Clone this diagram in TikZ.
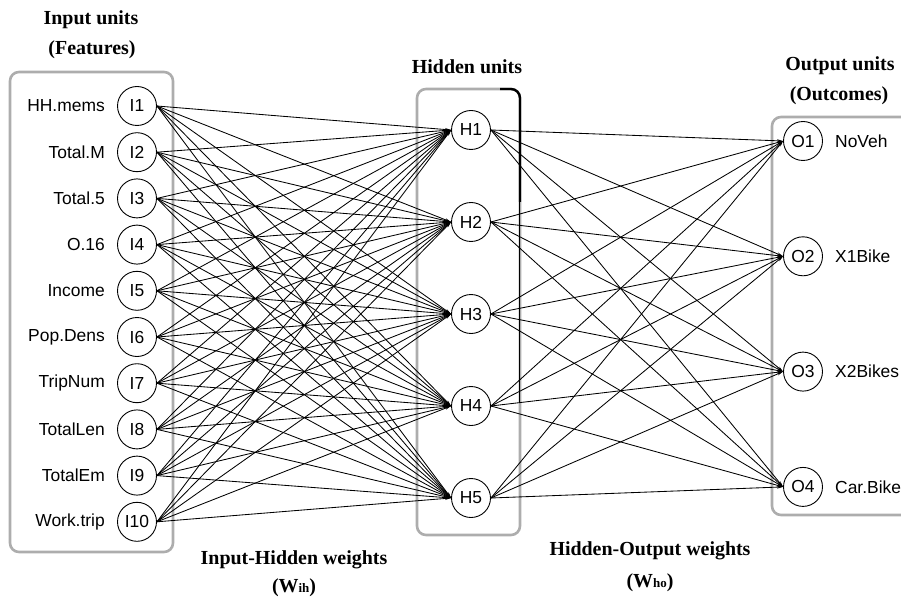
\documentclass[tikz,border=0pt]{standalone}
\usepackage{fontspec}
\setmainfont{Liberation Serif}
\newfontfamily\arialfont{Liberation Sans}
\usetikzlibrary{
  arrows.meta
}

\begin{document}
\begin{tikzpicture}[x=1bp, y=-1bp,
  every node/.style = {inner sep=0pt},
  unit/.style = {shape=circle, draw, line width=0.9pt, minimum size=39bp,
    font=\arialfont\fontsize{17.5}{20}\selectfont},
  feat/.style = {anchor=east, font=\arialfont\fontsize{17.5}{20}\selectfont},
  outc/.style = {anchor=west, font=\arialfont\fontsize{17.5}{20}\selectfont},
  group/.style = {draw=black!32, line width=2.6pt, rounded corners=9bp},
  title/.style = {font=\bfseries\fontsize{20}{24}\selectfont},
  wtitle/.style = {font=\bfseries\fontsize{20}{24}\selectfont},
  weight/.style = {-{Stealth[length=6bp,width=3bp]}, line width=0.85pt}]
    \useasboundingbox (0,0) rectangle (901,597);
    % boxes round the layers
    \draw[group] (10,72) rectangle (173,552);
    \draw[group] (417,89) rectangle (520,535);
    \draw[group] (772,117) rectangle (930,515);
    \draw[line width=2.4pt, rounded corners=9bp] (500,89) -- (520,89) -- (520,202);
    \draw[line width=1.1pt] (519.5,200) -- (519.5,402);

    % input layer
    \foreach \lab [count=\i] in {HH.mems,Total.M,Total.5,O.16,Income,
        Pop.Dens,TripNum,TotalLen,TotalEm,Work.trip} {
      \node[unit] (I\i) at (137,{106+46.2*(\i-1)}) {I\i};
      \node[feat] (F\i) at (105,{106+46.2*(\i-1)}) {\lab};
    }
    % hidden layer
    \foreach \j in {1,...,5}
      \node[unit] (H\j) at (471,{130+92*(\j-1)}) {H\j};
    % output layer
    \foreach \lab [count=\k] in {NoVeh,X1Bike,X2Bikes,Car.Bike} {
      \node[unit] (O\k) at (803,{141+115.3*(\k-1)}) {O\k};
      \node[outc] (C\k) at (835,{141+115.3*(\k-1)}) {\lab};
    }

    \foreach \i in {1,...,10}
      \foreach \j in {1,...,5}
        \draw[weight] (I\i.east) -- (H\j.west);
    \foreach \j in {1,...,5}
      \foreach \k in {1,...,4}
        \draw[weight] (H\j.east) -- (O\k.west);

    % titles
    \node[title] (intitle) at (91,20) {Input units};
    \node[title] (infeat) at (92,50) {(Features)};
    \node[title] (hidtitle) at (467,67) {Hidden units};
    \node[title] (outtitle) at (840,66) {Output units};
    \node[title] (outcome) at (839,96) {(Outcomes)};
    \node[wtitle] (ihw) at (294,560) {Input-Hidden weights};
    \node[wtitle] (ihsym) at (294,588) {(W{\fontsize{13}{15}\selectfont ih})};
    \node[wtitle] (how) at (650,551) {Hidden-Output weights};
    \node[wtitle] (hosym) at (650,583) {(W{\fontsize{13}{15}\selectfont ho})};
\end{tikzpicture}
\end{document}
